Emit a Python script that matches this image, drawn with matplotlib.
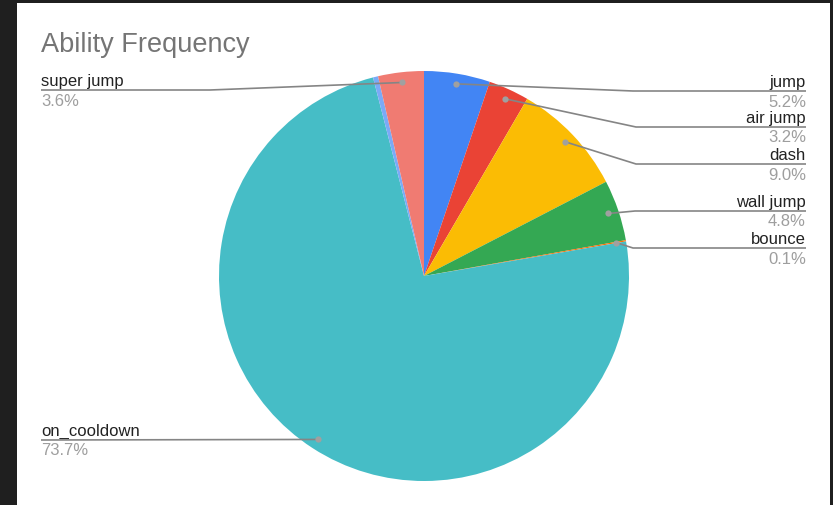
import numpy as np
import matplotlib
matplotlib.use('Agg')
import matplotlib.pyplot as plt
from matplotlib.patches import Rectangle

plt.rcParams['font.family'] = ['Liberation Sans', 'DejaVu Sans']

title = "Ability Frequency"
categories = ["jump", "air jump", "dash", "wall jump", "bounce", "on_cooldown", "", "super jump"]
values = [5.2, 3.2, 9.0, 4.8, 0.1, 73.7, 0.4, 3.6]
pct_labels = ["5.2%", "3.2%", "9.0%", "4.8%", "0.1%", "73.7%", "", "3.6%"]
colors = ['#4285F4', '#EA4335', '#FBBC04', '#34A853', '#FF6D01', '#46BDC6', '#7BAAF7', '#F07B72']

W, H = 833, 506
fig = plt.figure(figsize=(W / 100, H / 100), dpi=100, facecolor='#1f1f1f')
ax = fig.add_axes([0, 0, 1, 1])
ax.add_patch(Rectangle((17, 0), 813, 502, facecolor='white', edgecolor='none', zorder=0))

cx, cy, R = 424, H - 277, 205
wedges, _ = ax.pie(values, colors=colors, startangle=90, counterclock=False,
                   center=(cx, cy), radius=R, frame=True,
                   wedgeprops=dict(linewidth=0))
ax.set_xlim(0, W)
ax.set_ylim(0, H)
ax.set_aspect('equal')
ax.axis('off')

ax.text(41, H - 52, title, fontsize=19.5, color='#757575', ha='left', va='baseline')

# label layout (pixel rows from top), side, elbow x
layout = {
    "jump": ('right', 92, 633),
    "air jump": ('right', 128, 636),
    "dash": ('right', 165, 636),
    "wall jump": ('right', 212, 635),
    "bounce": ('right', 249, 633),
    "on_cooldown": ('left', 441, None),
    "super jump": ('left', 91, 210),
}

line_c = '#858585'
dot_c = '#a0a0a0'
xl, xr = 41, 806
for w, name, pct in zip(wedges, categories, pct_labels):
    if name not in layout:
        continue
    side, ly, ex = layout[name]
    ang = np.deg2rad((w.theta1 + w.theta2) / 2)
    dx = cx + 0.95 * R * np.cos(ang)
    dy = cy + 0.95 * R * np.sin(ang)
    y = H - ly
    if side == 'right':
        xs = [dx, ex, xr]
        ys = [dy, y, y]
        tx, ha = xr, 'right'
    else:
        if ex is None:
            xs = [xl, dx]
            ys = [y, dy]
        else:
            xs = [xl, ex, dx]
            ys = [y, y, dy]
        tx, ha = xl, 'left'
    ax.plot(xs, ys, color=line_c, lw=1.2, zorder=5, solid_capstyle='butt')
    ax.plot([dx], [dy], 'o', color=dot_c, ms=4.5, mec='none', zorder=6)
    ax.text(tx, y + 5, name, fontsize=12, color='#222222', ha=ha, va='baseline')
    ax.text(tx, y - 2.5, pct, fontsize=12, color='#9e9e9e', ha=ha, va='top')

fig.savefig('out.png', dpi=100, facecolor=fig.get_facecolor())
